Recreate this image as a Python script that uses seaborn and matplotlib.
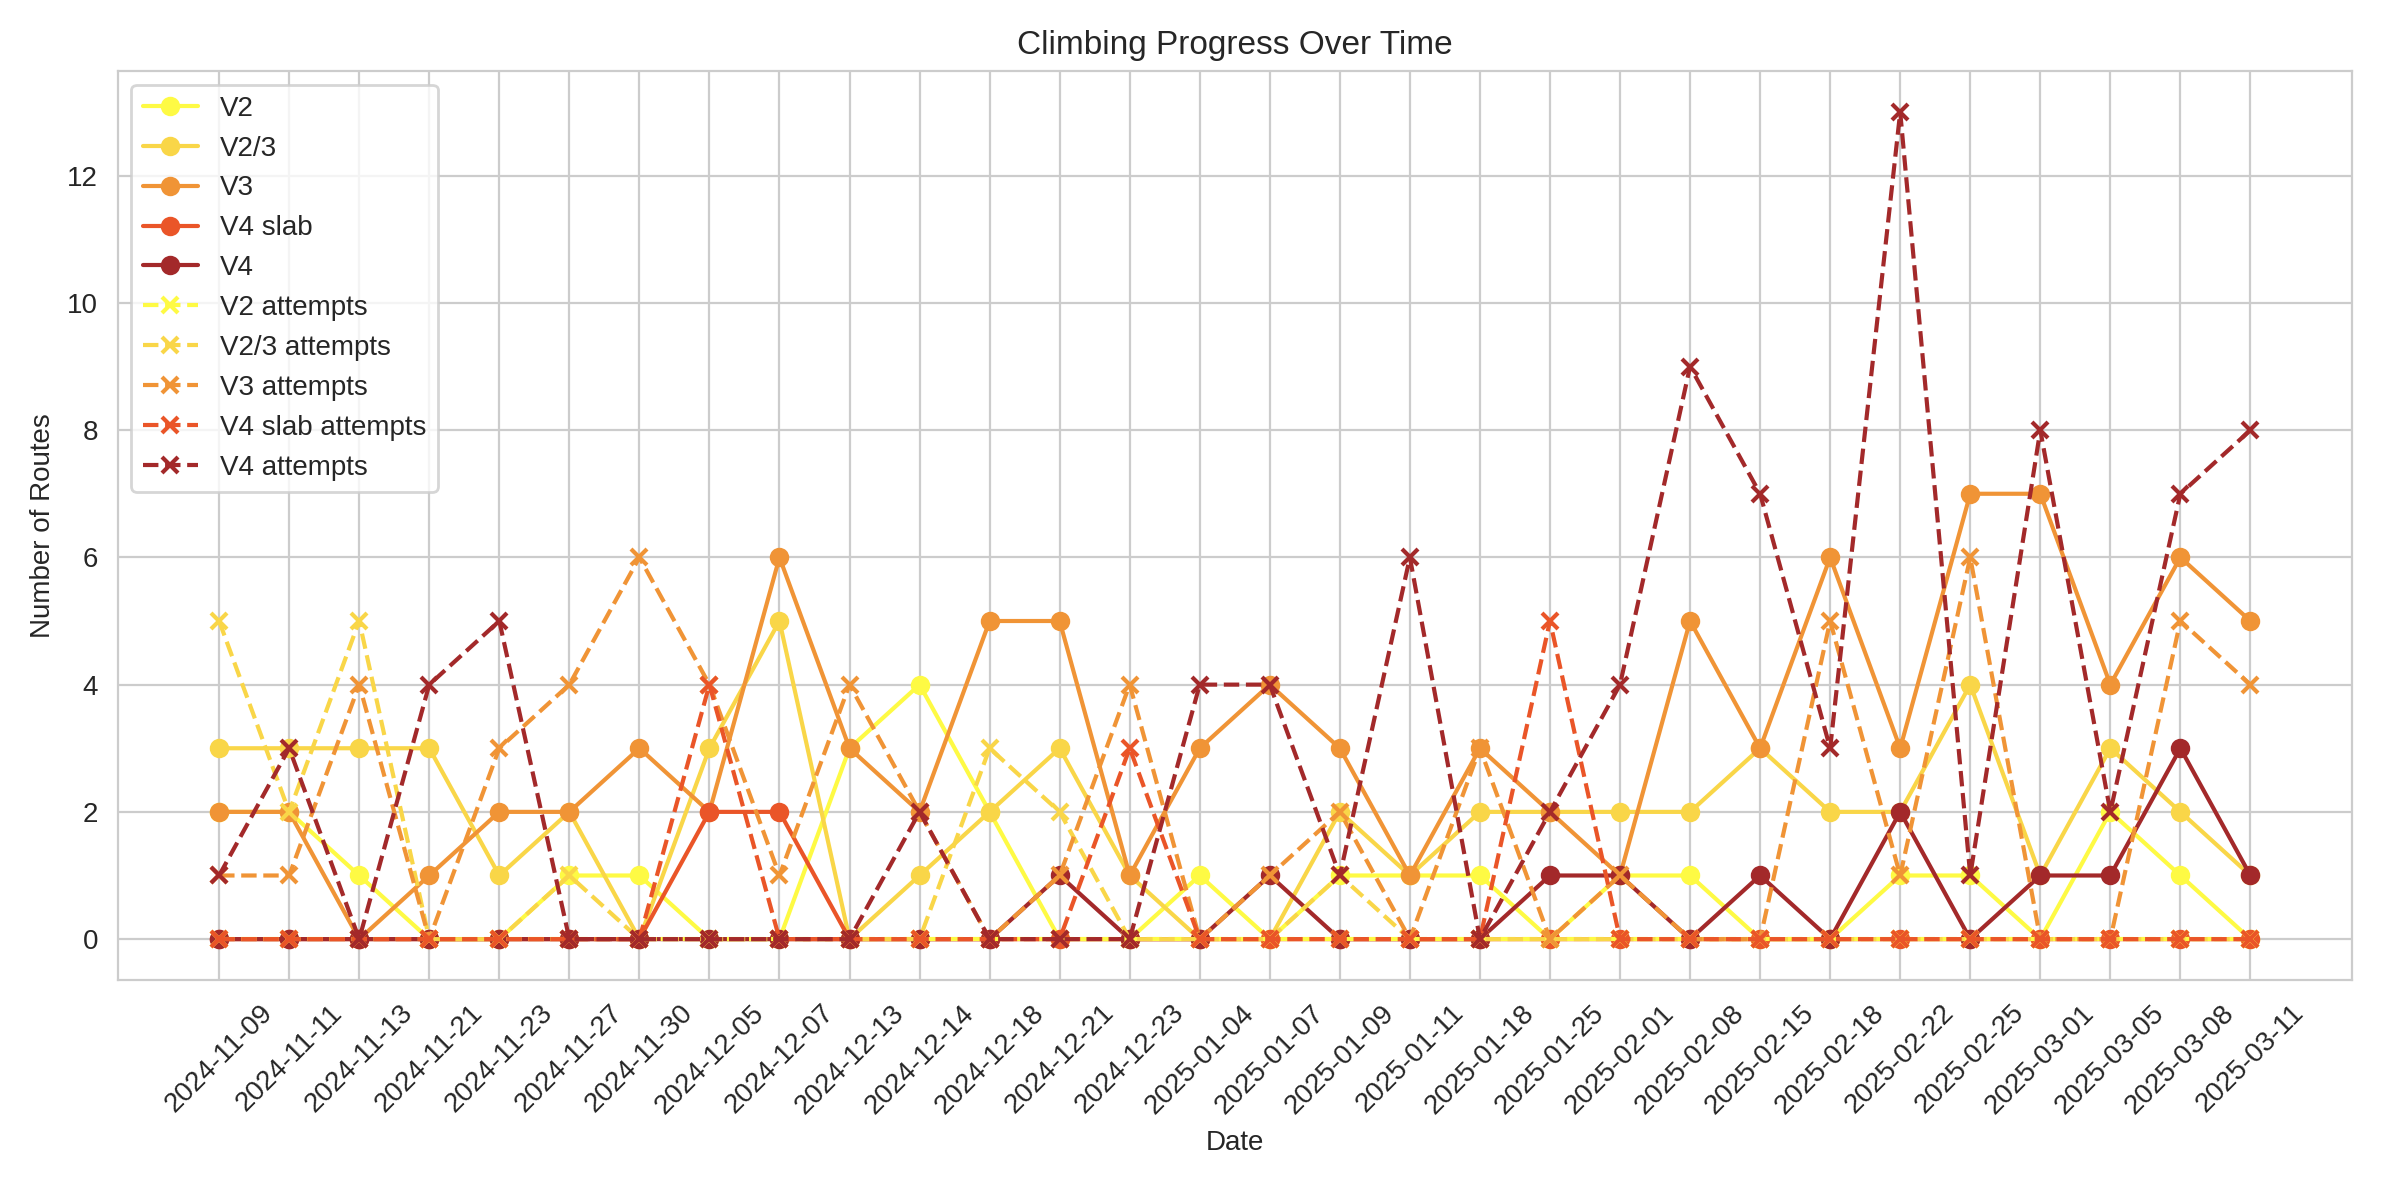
import matplotlib
matplotlib.use("Agg")
import matplotlib.pyplot as plt
import seaborn as sns
import pandas as pd

dates = ["2024-11-09", "2024-11-11", "2024-11-13", "2024-11-21", "2024-11-23",
         "2024-11-27", "2024-11-30", "2024-12-05", "2024-12-07", "2024-12-13",
         "2024-12-14", "2024-12-18", "2024-12-21", "2024-12-23", "2025-01-04",
         "2025-01-07", "2025-01-09", "2025-01-11", "2025-01-18", "2025-01-25",
         "2025-02-01", "2025-02-08", "2025-02-15", "2025-02-18", "2025-02-22",
         "2025-02-25", "2025-03-01", "2025-03-05", "2025-03-08", "2025-03-11"]

v2 =       [2, 2, 1, 0, 0, 1, 1, 0, 0, 3, 4, 2, 0, 0, 1, 0, 1, 1, 1, 0, 1, 1, 0, 0, 1, 1, 0, 2, 1, 0]
v2_3 =     [3, 3, 3, 3, 1, 2, 0, 3, 5, 0, 1, 2, 3, 1, 0, 0, 2, 1, 2, 2, 2, 2, 3, 2, 2, 4, 1, 3, 2, 1]
v3 =       [2, 2, 0, 1, 2, 2, 3, 2, 6, 3, 2, 5, 5, 1, 3, 4, 3, 1, 3, 2, 1, 5, 3, 6, 3, 7, 7, 4, 6, 5]
v4_slab =  [0, 0, 0, 0, 0, 0, 0, 2, 2, 0, 0, 0, 0, 0, 0, 0, 0, 0, 0, 0, 0, 0, 0, 0, 0, 0, 0, 0, 0, 0]
v4 =       [0, 0, 0, 0, 0, 0, 0, 0, 0, 0, 0, 0, 1, 0, 0, 1, 0, 0, 0, 1, 1, 0, 1, 0, 2, 0, 1, 1, 3, 1]

v2_att =      [0] * 30
v2_3_att =    [5, 2, 5, 0, 0, 1, 0, 0, 0, 0, 0, 3, 2, 0, 0, 0, 1, 0, 0, 0, 0, 0, 0, 0, 0, 0, 0, 0, 0, 0]
v3_att =      [1, 1, 4, 0, 3, 4, 6, 4, 1, 4, 2, 0, 1, 4, 0, 1, 2, 0, 3, 0, 1, 0, 0, 5, 1, 6, 0, 0, 5, 4]
v4_slab_att = [0, 0, 0, 0, 0, 0, 0, 4, 0, 0, 0, 0, 0, 3, 0, 0, 0, 0, 0, 5, 0, 0, 0, 0, 0, 0, 0, 0, 0, 0]
v4_att =      [1, 3, 0, 4, 5, 0, 0, 0, 0, 0, 2, 0, 0, 0, 4, 4, 1, 6, 0, 2, 4, 9, 7, 3, 13, 1, 8, 2, 7, 8]

grades = ["V2", "V2/3", "V3", "V4 slab", "V4"]
colors = ["#fefa44", "#f9d648", "#f09436", "#ea5528", "#a3292a"]
sent = [v2, v2_3, v3, v4_slab, v4]
attempts = [v2_att, v2_3_att, v3_att, v4_slab_att, v4_att]

sns.set_style("whitegrid")
plt.rcParams["font.family"] = ["Liberation Sans", "DejaVu Sans"]

fig, ax = plt.subplots(figsize=(11.91, 5.93), dpi=200)

for g, c, vals in zip(grades, colors, sent):
    df = pd.DataFrame({"Date": dates, "Routes": vals})
    sns.lineplot(data=df, x="Date", y="Routes", ax=ax, color=c, marker="o",
                 markersize=6, markeredgecolor=c, markeredgewidth=1,
                 linewidth=1.5, label=g, sort=False)

for g, c, vals in zip(grades, colors, attempts):
    df = pd.DataFrame({"Date": dates, "Routes": vals})
    sns.lineplot(data=df, x="Date", y="Routes", ax=ax, color=c, marker="x",
                 markersize=6, markeredgecolor=c, markeredgewidth=1.5,
                 linewidth=1.5, linestyle="--", label=g + " attempts", sort=False)

ax.set_title("Climbing Progress Over Time")
ax.set_xlabel("Date")
ax.set_ylabel("Number of Routes")
ax.tick_params(axis="x", rotation=45)
ax.legend(loc="upper left")

fig.tight_layout()
fig.savefig("out.png", dpi=200)
